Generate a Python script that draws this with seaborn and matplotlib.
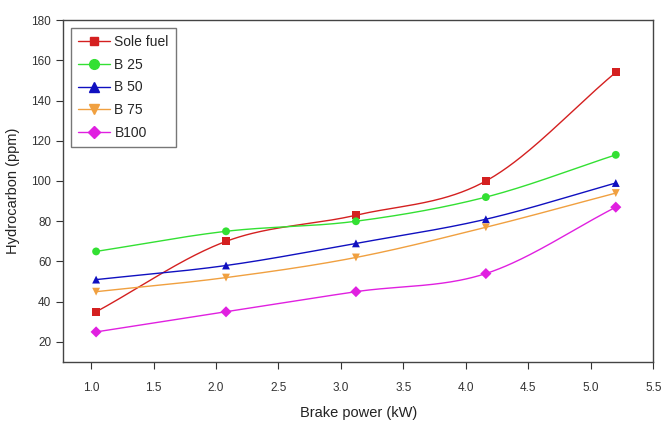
import numpy as np
import pandas as pd
import matplotlib
matplotlib.use("Agg")
import matplotlib.pyplot as plt
import seaborn as sns
from matplotlib.lines import Line2D

brake_power = [1.04, 2.08, 3.12, 4.16, 5.2]
sole_fuel = [35, 70, 83, 100, 154]
b25 = [65, 75, 80, 92, 113]
b50 = [51, 58, 69, 81, 99]
b75 = [45, 52, 62, 77, 94]
b100 = [25, 35, 45, 54, 87]
series_names = ["Sole fuel", "B 25", "B 50", "B 75", "B100"]
series_values = [sole_fuel, b25, b50, b75, b100]

colors = ["#d42020", "#33e033", "#1010c0", "#f0a040", "#e020e0"]
markers = ["s", "o", "^", "v", "D"]
msizes = [6, 7, 7, 7, 6]

sns.set_style("ticks")
plt.rcParams['font.family'] = ['Liberation Sans', 'DejaVu Sans']


def smooth_curve(x, y, n=60):
    x = np.asarray(x, float); y = np.asarray(y, float)
    k = len(x)
    m = np.zeros(k)
    m[0] = (y[1] - y[0]) / (x[1] - x[0])
    m[-1] = (y[-1] - y[-2]) / (x[-1] - x[-2])
    for i in range(1, k - 1):
        m[i] = (y[i + 1] - y[i - 1]) / (x[i + 1] - x[i - 1])
    xs_all, ys_all = [], []
    for i in range(k - 1):
        h = x[i + 1] - x[i]
        t = np.linspace(0, 1, n)
        h00 = 2 * t**3 - 3 * t**2 + 1
        h10 = t**3 - 2 * t**2 + t
        h01 = -2 * t**3 + 3 * t**2
        h11 = t**3 - t**2
        xs_all.append(x[i] + t * h)
        ys_all.append(h00 * y[i] + h10 * h * m[i] + h01 * y[i + 1] + h11 * h * m[i + 1])
    return np.concatenate(xs_all), np.concatenate(ys_all)


fig = plt.figure(figsize=(6.61, 4.26), dpi=100)
ax = fig.add_axes([0.0953, 0.150, 0.893, 0.803])

rows = []
for name, vals in zip(series_names, series_values):
    for xv, yv in zip(brake_power, vals):
        rows.append({"Brake power": xv, "HC": yv, "Fuel": name})
df = pd.DataFrame(rows)

for name, vals, col in zip(series_names, series_values, colors):
    xs, ys = smooth_curve(brake_power, vals)
    sns.lineplot(x=xs, y=ys, ax=ax, color=col, linewidth=1.0, legend=False,
                 sort=False, estimator=None)

sns.scatterplot(data=df, x="Brake power", y="HC", hue="Fuel", style="Fuel",
                palette=dict(zip(series_names, colors)),
                markers=dict(zip(series_names, markers)),
                s=32, edgecolor="none", ax=ax, legend=False, zorder=3)

handles = [Line2D([0], [0], color=c, marker=m, markersize=ms, linewidth=1.0)
           for c, m, ms in zip(colors, markers, msizes)]
leg = ax.legend(handles, series_names, loc="upper left", bbox_to_anchor=(0.013, 0.978),
                frameon=True, fancybox=False, fontsize=10, handlelength=2.3,
                handletextpad=0.3, labelspacing=0.62, borderpad=0.55,
                borderaxespad=0.0)
leg.get_frame().set_edgecolor("#555555")
leg.get_frame().set_linewidth(1.0)

ax.set_xlim(0.775, 5.5)
ax.set_ylim(10, 180)
ax.set_xticks(np.arange(1.0, 5.51, 0.5))
ax.set_yticks(np.arange(20, 181, 20))
ax.set_xticklabels([f"{v:.1f}" for v in np.arange(1.0, 5.51, 0.5)])
ax.tick_params(axis="both", labelsize=8.5, colors="#333333", length=5, width=0.8)
ax.tick_params(axis="x", pad=9)
ax.set_xlabel("Brake power (kW)", fontsize=10.5, color="#222222", labelpad=9)
ax.set_ylabel("Hydrocarbon (ppm)", fontsize=10.5, color="#222222", labelpad=8)
for s in ax.spines.values():
    s.set_visible(True)
    s.set_color("#444444")
    s.set_linewidth(1.0)

fig.savefig("out.png", dpi=100)
